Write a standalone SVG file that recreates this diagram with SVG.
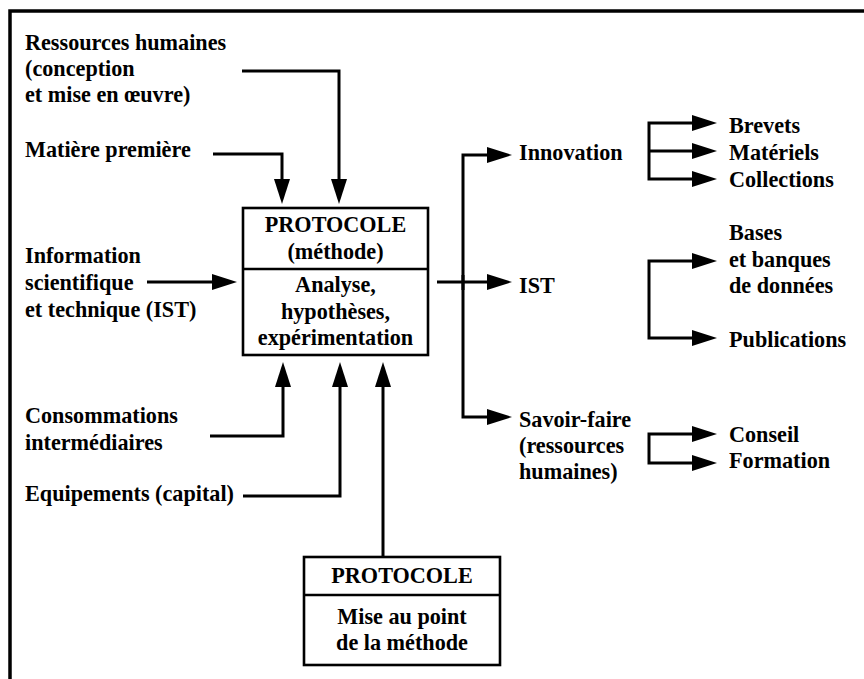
<svg xmlns="http://www.w3.org/2000/svg" width="864" height="679" viewBox="0 0 864 679">
  <style>
    .t { font-family: "Liberation Serif", "Times New Roman", serif; font-weight: bold; font-size: 24px; fill: #000;
         transform-box: fill-box; transform-origin: 0% 100%; transform: scaleX(0.925); }
    .c { text-anchor: middle; transform-origin: 50% 100%; }
    .box { fill: #fff; stroke: #000; stroke-width: 2.6; }
    .div { stroke: #000; stroke-width: 2.4; }
    .ln { fill: none; stroke: #000; stroke-width: 3; stroke-linejoin: miter; }
    .frame { fill: none; stroke: #000; stroke-width: 3.5; }
  </style>
  <defs>
    <marker id="ah" viewBox="-5 -8 25 16" refX="0" refY="0" markerWidth="25" markerHeight="16" markerUnits="userSpaceOnUse" orient="auto-start-reverse">
      <path d="M-5,-8 L20,0 L-5,8 Z" fill="#000"/>
    </marker>
  </defs>

  <rect width="864" height="679" fill="#fff"/>

  <!-- outer frame (top and left edges) -->
  <path class="frame" d="M10,679 V11 H864"/>

  <!-- connectors -->
  <g id="connectors">
    <path class="ln" d="M242,71 H339 V184" marker-end="url(#ah)"/>
    <path class="ln" d="M213,154 H282 V184" marker-end="url(#ah)"/>
    <path class="ln" d="M147,282 H217" marker-end="url(#ah)"/>
    <path class="ln" d="M210,436 H283 V382" marker-end="url(#ah)"/>
    <path class="ln" d="M243,496 H340 V382" marker-end="url(#ah)"/>
    <path class="ln" d="M383,557 V382" marker-end="url(#ah)"/>

    <path class="ln" d="M437,282 H492" marker-end="url(#ah)"/>
    <path class="ln" d="M463,290 V155 H492" marker-end="url(#ah)"/>
    <path class="ln" d="M463,275 V417 H492" marker-end="url(#ah)"/>

    <path class="ln" d="M697,123 H649 V179 H697" marker-start="url(#ah)" marker-end="url(#ah)"/>
    <path class="ln" d="M649,151 H697" marker-end="url(#ah)"/>
    <path class="ln" d="M697,261 H649 V338 H697" marker-start="url(#ah)" marker-end="url(#ah)"/>
    <path class="ln" d="M697,434 H649 V463 H697" marker-start="url(#ah)" marker-end="url(#ah)"/>
  </g>

  <!-- central protocol box -->
  <g id="protocole-methode">
    <rect class="box" x="243" y="208" width="185" height="147"/>
    <line class="div" x1="243" y1="269" x2="428" y2="269"/>
    <text class="t c" x="335.5" y="232">PROTOCOLE</text>
    <text class="t c" x="335.5" y="259">(méthode)</text>
    <text class="t c" x="335.5" y="292">Analyse,</text>
    <text class="t c" x="335.5" y="319">hypothèses,</text>
    <text class="t c" x="335.5" y="345">expérimentation</text>
  </g>

  <!-- lower protocol box -->
  <g id="protocole-mise-au-point">
    <rect class="box" x="304" y="557" width="196" height="108"/>
    <line class="div" x1="304" y1="595" x2="500" y2="595"/>
    <text class="t c" x="402" y="583">PROTOCOLE</text>
    <text class="t c" x="402" y="624">Mise au point</text>
    <text class="t c" x="402" y="650">de la méthode</text>
  </g>

  <!-- inputs -->
  <g id="ressources-humaines">
    <text class="t" x="25" y="50">Ressources humaines</text>
    <text class="t" x="25" y="76">(conception</text>
    <text class="t" x="25" y="102">et mise en œuvre)</text>
  </g>
  <g id="matiere-premiere">
    <text class="t" x="25" y="157">Matière première</text>
  </g>
  <g id="information-ist">
    <text class="t" x="25" y="263">Information</text>
    <text class="t" x="25" y="290">scientifique</text>
    <text class="t" x="25" y="317">et technique (IST)</text>
  </g>
  <g id="consommations">
    <text class="t" x="25" y="423">Consommations</text>
    <text class="t" x="25" y="450">intermédiaires</text>
  </g>
  <g id="equipements">
    <text class="t" x="25" y="501">Equipements (capital)</text>
  </g>

  <!-- outputs -->
  <g id="innovation">
    <text class="t" x="519" y="160">Innovation</text>
  </g>
  <g id="ist">
    <text class="t" x="519" y="293">IST</text>
  </g>
  <g id="savoir-faire">
    <text class="t" x="519" y="427">Savoir-faire</text>
    <text class="t" x="519" y="453">(ressources</text>
    <text class="t" x="519" y="479">humaines)</text>
  </g>
  <g id="brevets"><text class="t" x="729" y="133">Brevets</text></g>
  <g id="materiels"><text class="t" x="729" y="160">Matériels</text></g>
  <g id="collections"><text class="t" x="729" y="187">Collections</text></g>
  <g id="bases">
    <text class="t" x="729" y="240">Bases</text>
    <text class="t" x="729" y="267">et banques</text>
    <text class="t" x="729" y="293">de données</text>
  </g>
  <g id="publications"><text class="t" x="729" y="347">Publications</text></g>
  <g id="conseil"><text class="t" x="729" y="442">Conseil</text></g>
  <g id="formation"><text class="t" x="729" y="468">Formation</text></g>
</svg>
